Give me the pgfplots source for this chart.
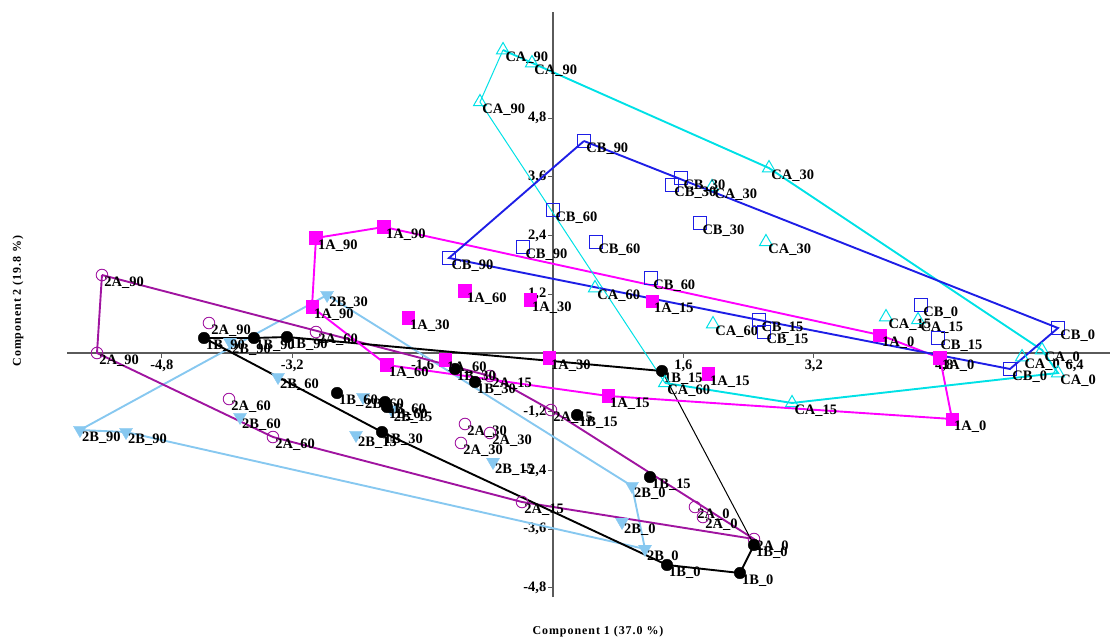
\documentclass[border=0pt]{standalone}
\usepackage{fontspec}
\setmainfont{Liberation Serif}
\newfontfamily\spacedfont[LetterSpace=8]{Liberation Serif}
\usepackage{pgfplots}
\usepackage{pgfplotstable}
\pgfplotsset{compat=1.18}
\definecolor{cMag}{RGB}{255,0,255}
\definecolor{cPur}{RGB}{160,20,160}
\definecolor{cLb}{RGB}{135,200,240}
\definecolor{cCy}{RGB}{0,225,230}
\definecolor{cBl}{RGB}{30,30,230}
\definecolor{cAx}{RGB}{90,90,90}

\pgfplotstableread{
x y label
-2.908 2.352 1A\_90
-2.074 2.577 1A\_90
-2.957 0.941 1A\_90
-1.080 1.268 1A\_60
-2.037 -0.245 1A\_60
-1.325 -0.143 1A\_60
-1.779 0.716 1A\_30
-0.282 1.084 1A\_30
-0.049 -0.102 1A\_30
0.675 -0.879 1A\_15
1.902 -0.429 1A\_15
1.215 1.063 1A\_15
4.012 0.368 1A\_0
4.748 -0.102 1A\_0
4.896 -1.350 1A\_0
}\tabOneA

\pgfplotstableread{
x y label
-4.282 0.307 1B\_90
-3.669 0.307 1B\_90
-3.264 0.327 1B\_90
-2.650 -0.818 1B\_60
-2.061 -1.002 1B\_60
-2.037 -1.104 1B\_60
-2.098 -1.616 1B\_30
-1.202 -0.327 1B\_30
-0.957 -0.593 1B\_30
1.337 -0.368 1B\_15
0.294 -1.268 1B\_15
1.190 -2.536 1B\_15
2.466 -3.926 1B\_0
2.294 -4.499 1B\_0
1.399 -4.335 1B\_0
}\tabOneB

\pgfplotstableread{
x y label
-5.534 1.595 2A\_90
-5.595 0.000 2A\_90
-4.221 0.613 2A\_90
-2.908 0.429 2A\_60
-3.975 -0.941 2A\_60
-3.436 -1.718 2A\_60
-1.080 -1.452 2A\_30
-0.773 -1.636 2A\_30
-1.129 -1.840 2A\_30
-0.773 -0.470 2A\_15
-0.025 -1.166 2A\_15
-0.380 -3.047 2A\_15
1.742 -3.149 2A\_0
1.840 -3.354 2A\_0
2.466 -3.804 2A\_0
}\tabTwoA

\pgfplotstableread{
x y label
-5.804 -1.575 2B\_90
-5.239 -1.616 2B\_90
-3.963 0.225 2B\_90
-2.772 1.186 2B\_30
-3.374 -0.491 2B\_60
-3.840 -1.309 2B\_60
-2.331 -0.900 2B\_60
-2.417 -1.677 2B\_15
-1.980 -1.160 2B\_15
-0.736 -2.229 2B\_15
0.969 -2.720 2B\_0
0.847 -3.456 2B\_0
1.129 -4.008 2B\_0
}\tabTwoB

\pgfplotstableread{
x y label
-0.613 6.196 CA\_90
-0.258 5.930 CA\_90
-0.896 5.133 CA\_90
2.650 3.783 CA\_30
1.951 3.395 CA\_30
2.613 2.270 CA\_30
0.515 1.329 CA\_60
1.963 0.593 CA\_60
1.374 -0.613 CA\_60
4.086 0.736 CA\_15
4.479 0.675 CA\_15
2.933 -1.022 CA\_15
5.755 -0.082 CA\_0
6.000 0.061 CA\_0
6.196 -0.409 CA\_0
}\tabCA

\pgfplotstableread{
x y label
0.380 4.335 CB\_90
-1.276 1.943 CB\_90
-0.368 2.168 CB\_90
0.000 2.924 CB\_60
0.528 2.270 CB\_60
1.202 1.534 CB\_60
1.571 3.579 CB\_30
1.460 3.436 CB\_30
1.804 2.658 CB\_30
2.528 0.675 CB\_15
2.589 0.429 CB\_15
4.724 0.307 CB\_15
4.515 0.982 CB\_0
6.196 0.511 CB\_0
5.607 -0.327 CB\_0
}\tabCB

\begin{document}
\begin{tikzpicture}
\path[use as bounding box] (-553bp,-288bp) rectangle (557bp,353bp);
\begin{axis}[
  anchor=origin, at={(0,0)},
  x=81.5bp, y=48.9bp,
  xmin=-5.963, xmax=6.834, ymin=-4.99, ymax=6.973,
  axis lines=middle,
  axis line style={-, draw=cAx, line width=1.5bp},
  clip=false,
  xtick={-4.8,-3.2,-1.6,1.6,3.2,4.8,6.4},
  ytick={-4.8,-3.6,-2.4,-1.2,1.2,2.4,3.6,4.8},
  tick align=outside,
  major tick length=5bp,
  tick style={draw=cAx, line width=1bp},
  ticklabel style={font=\bfseries\fontsize{14.5}{14.5}\selectfont, inner sep=1.5bp},
  /pgf/number format/assume math mode=true,
  /pgf/number format/use comma,
  /pgf/number format/fixed,
  /pgf/number format/fixed zerofill,
  /pgf/number format/precision=1,
  every node near coord/.append style={anchor=west, xshift=2bp, yshift=-8bp, inner sep=0pt, text=black, font=\bfseries\fontsize{14.5}{14.5}\selectfont},
  hull/.style={no marks, line width=1.9bp},
  thin hull/.style={no marks, line width=1bp},
]
% hulls
\addplot[hull, cLb] coordinates {(-2.772,1.186) (0.969,-2.720) (1.129,-4.008) (-5.239,-1.616) (-5.804,-1.575) (-2.772,1.186)};
\addplot[hull, cPur] coordinates {(-5.534,1.595) (-0.773,-0.470) (-0.025,-1.166) (2.466,-3.804) (-0.380,-3.047) (-3.436,-1.718) (-5.595,0.000) (-5.534,1.595)};
\addplot[hull, black] coordinates {(1.337,-0.368) (-3.264,0.327) (-3.669,0.307) (-4.282,0.307) (-2.098,-1.616) (1.399,-4.335) (2.294,-4.499) (2.466,-3.926)};
\addplot[thin hull, black] coordinates {(2.466,-3.926) (1.337,-0.368)};
\addplot[hull, cMag] coordinates {(-2.908,2.352) (-2.074,2.577) (4.012,0.368) (4.748,-0.102) (4.896,-1.350) (0.675,-0.879) (-2.037,-0.245) (-2.957,0.941) (-2.908,2.352)};
\addplot[hull, cCy] coordinates {(1.374,-0.613) (2.933,-1.022) (6.196,-0.409) (6.000,0.061) (2.650,3.783) (-0.613,6.196)};
\addplot[thin hull, cCy] coordinates {(-0.613,6.196) (-0.896,5.133) (1.374,-0.613)};
\addplot[hull, cBl] coordinates {(0.380,4.335) (6.196,0.511) (5.607,-0.327) (2.528,0.675) (-1.276,1.943) (0.380,4.335)};
% points
\addplot[only marks, cLb, mark=triangle*, mark size=7.5bp, mark options={rotate=180, fill=cLb, draw=cLb}, nodes near coords, point meta=explicit symbolic] table[meta=label] {\tabTwoB};
\addplot[only marks, cPur, mark=o, mark size=5.8bp, mark options={line width=0.9bp}, nodes near coords, point meta=explicit symbolic] table[meta=label] {\tabTwoA};
\addplot[only marks, black, mark=*, mark size=5.8bp, nodes near coords, point meta=explicit symbolic] table[meta=label] {\tabOneB};
\addplot[only marks, cMag, mark=square*, mark size=6.3bp, nodes near coords, point meta=explicit symbolic] table[meta=label] {\tabOneA};
\addplot[only marks, cCy, mark=triangle, mark size=7.5bp, mark options={line width=1bp}, nodes near coords, point meta=explicit symbolic] table[meta=label] {\tabCA};
\addplot[only marks, cBl, mark=square, mark size=6.5bp, mark options={line width=1bp}, nodes near coords, point meta=explicit symbolic] table[meta=label] {\tabCB};
\end{axis}
\node[rotate=90, font=\spacedfont\bfseries\fontsize{12}{12}\selectfont] at (-535bp,52bp) {Component 2 (19.8 \%)};
\node[font=\spacedfont\bfseries\fontsize{12}{12}\selectfont] at (45bp,-279bp) {Component 1 (37.0 \%)};
\end{tikzpicture}
\end{document}
